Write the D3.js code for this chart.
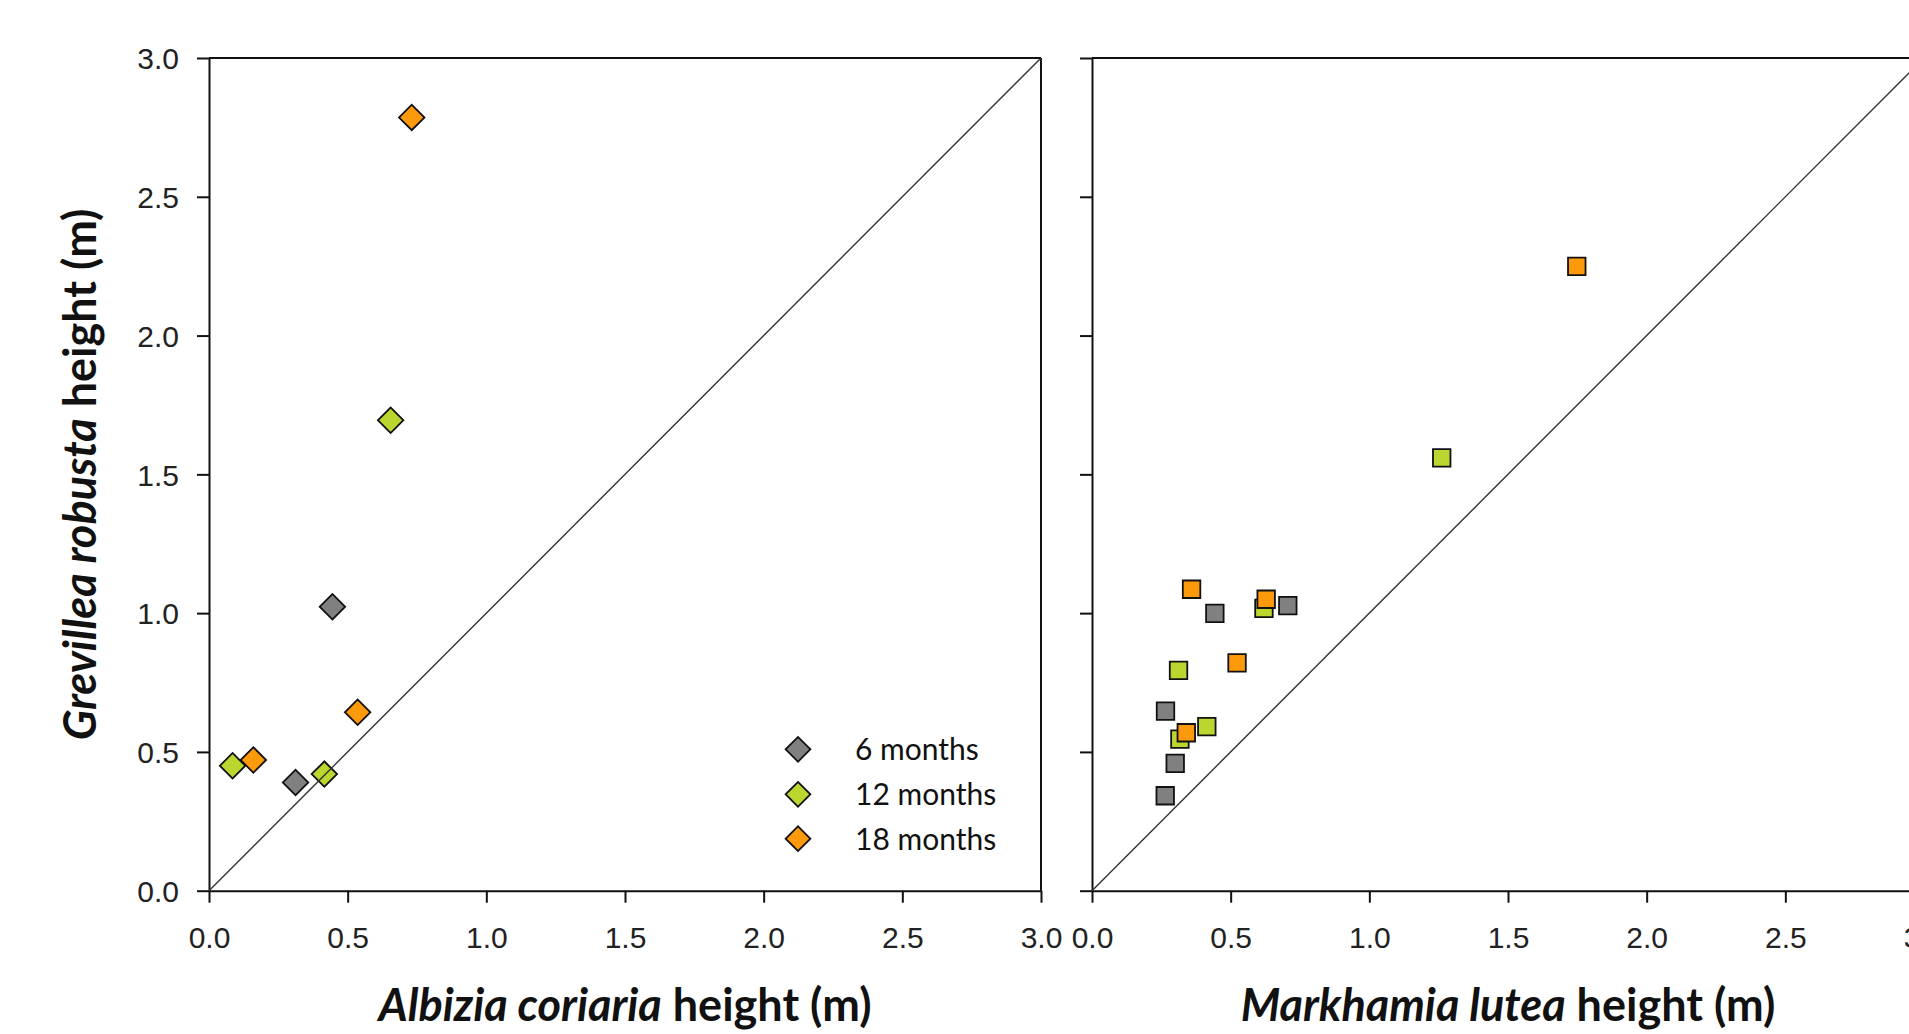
<!DOCTYPE html>
<html>
<head>
<meta charset="utf-8">
<script src="https://cdn.jsdelivr.net/npm/d3@7"></script>
<style>
  body { margin: 0; background: #fff; overflow: hidden; }
  .tick text { font-family: "Liberation Sans", Arial, sans-serif; font-size: 30px; fill: #222; }
  .title { font-family: Lato, "Open Sans", sans-serif; font-weight: 700; font-size: 45px; fill: #111; }
  .legend-text { font-family: Lato, "Open Sans", sans-serif; font-size: 30px; fill: #111; }
</style>
</head>
<body>
<svg id="chart" width="1909" height="1034"></svg>
<script>
// Series labels and colours
const seriesNames = ['6 months', '12 months', '18 months'];
const seriesColors = ['#808080', '#bcd630', '#fd9a0c'];

// Left panel: Albizia coriaria (x) vs Grevillea robusta (y)
const albizia6 = [[0.445, 1.023], [0.312, 0.390]];
const albizia12 = [[0.085, 0.450], [0.416, 0.420], [0.655, 1.695]];
const albizia18 = [[0.160, 0.471], [0.536, 0.643], [0.731, 2.786]];

// Right panel: Markhamia lutea (x) vs Grevillea robusta (y)
const markhamia6 = [[0.443, 0.999], [0.706, 1.027], [0.265, 0.647], [0.300, 0.459], [0.264, 0.342]];
const markhamia12 = [[0.312, 0.794], [0.414, 0.591], [0.317, 0.546], [0.620, 1.017], [1.261, 1.559]];
const markhamia18 = [[0.359, 1.086], [0.628, 1.050], [0.523, 0.821], [0.340, 0.569], [1.748, 2.249]];

const tickValues = [0, 0.5, 1.0, 1.5, 2.0, 2.5, 3.0];

const svg = d3.select("#chart");
const plotTop = 58, plotBottom = 890.7, panelW = 832;

function drawPanel(left, series, shape, showYLabels, xTitleItalic) {
  const x = d3.scaleLinear().domain([0, 3]).range([left, left + panelW]);
  const y = d3.scaleLinear().domain([0, 3]).range([plotBottom, plotTop]);
  const g = svg.append("g");

  // frame (top and right)
  g.append("line").attr("x1", x(0)).attr("x2", x(3)).attr("y1", y(3)).attr("y2", y(3))
    .attr("stroke", "#111").attr("stroke-width", 2);
  g.append("line").attr("x1", x(3)).attr("x2", x(3)).attr("y1", y(0)).attr("y2", y(3))
    .attr("stroke", "#111").attr("stroke-width", 2);

  const xAxis = d3.axisBottom(x).tickValues(tickValues).tickSize(12).tickSizeOuter(0).tickPadding(24)
    .tickFormat(d3.format(".1f"));
  const yAxis = d3.axisLeft(y).tickValues(tickValues).tickSize(12).tickSizeOuter(0).tickPadding(18)
    .tickFormat(showYLabels ? d3.format(".1f") : "");

  const gx = g.append("g").attr("transform", `translate(0,${plotBottom})`).call(xAxis);
  const gy = g.append("g").attr("transform", `translate(${left},0)`).call(yAxis);
  [gx, gy].forEach(a => {
    a.select(".domain").attr("stroke", "#111").attr("stroke-width", 2);
    a.selectAll(".tick line").attr("stroke", "#111").attr("stroke-width", 2);
  });
  gx.selectAll(".tick text").attr("dy", "0.72em");
  gy.selectAll(".tick text").attr("dy", "0.36em");

  // markers
  const sym = shape === "diamond"
    ? d3.symbol().type(d3.symbolSquare).size(18 * 18)
    : d3.symbol().type(d3.symbolSquare).size(17.5 * 17.5);
  series.forEach((pts, i) => {
    g.selectAll(null).data(pts).enter().append("path")
      .attr("d", sym)
      .attr("transform", d => `translate(${x(d[0])},${y(d[1])})` + (shape === "diamond" ? " rotate(45)" : ""))
      .attr("fill", seriesColors[i])
      .attr("stroke", "#111")
      .attr("stroke-width", 1.8);
  });

  // 1:1 line
  g.append("line").attr("x1", x(0)).attr("y1", y(0)).attr("x2", x(3)).attr("y2", y(3))
    .attr("stroke", "#333").attr("stroke-width", 1.4);

  // x title
  const t = g.append("text").attr("class", "title")
    .attr("x", (x(0) + x(3)) / 2).attr("y", 1021).attr("text-anchor", "middle");
  t.append("tspan").attr("font-style", "italic").text(xTitleItalic);
  t.append("tspan").text(" height (m)");
  return { x, y };
}

drawPanel(209, [albizia6, albizia12, albizia18], "diamond", true, "Albizia coriaria");
drawPanel(1092, [markhamia6, markhamia12, markhamia18], "square", false, "Markhamia lutea");

// y title
const yt = svg.append("text").attr("class", "title")
  .attr("transform", `translate(96,${(plotTop + plotBottom) / 2}) rotate(-90)`)
  .attr("text-anchor", "middle");
yt.append("tspan").attr("font-style", "italic").text("Grevillea robusta");
yt.append("tspan").text(" height (m)");

// legend
const legendRows = [749.3, 794.3, 838.7];
const lg = svg.append("g");
seriesNames.forEach((name, i) => {
  lg.append("path")
    .attr("d", d3.symbol().type(d3.symbolSquare).size(17.5 * 17.5))
    .attr("transform", `translate(798,${legendRows[i]}) rotate(45)`)
    .attr("fill", seriesColors[i]).attr("stroke", "#111").attr("stroke-width", 1.8);
  lg.append("text").attr("class", "legend-text")
    .attr("x", 855).attr("y", legendRows[i]).attr("dy", "0.36em").text(name);
});
</script>
</body>
</html>
